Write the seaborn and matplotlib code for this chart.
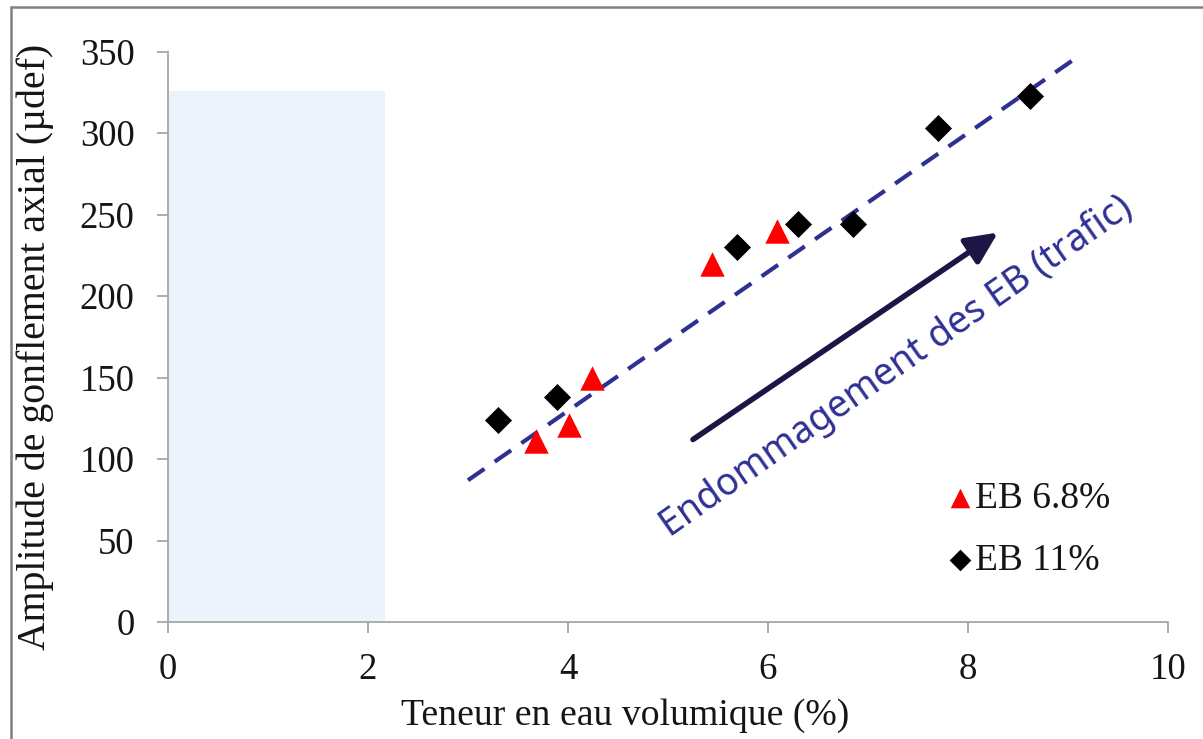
import matplotlib
matplotlib.use("Agg")
import matplotlib.pyplot as plt
import seaborn as sns
import pandas as pd
from matplotlib.patches import Rectangle
from matplotlib.lines import Line2D

# ---- data ----
eb68_x = [3.68, 4.01, 4.24, 5.44, 6.09]
eb68_y = [111, 121, 150, 220, 240]
eb11_x = [3.30, 3.89, 5.69, 6.30, 6.85, 7.70, 8.62]
eb11_y = [124, 138, 230, 244, 244, 303, 323]
trend_x = [3.0, 9.1]
trend_y = [87, 347]
arrow_start = (5.25, 112)
arrow_end = (8.30, 239)
zone_x = [0.0, 2.17]
zone_y = [0.0, 326]
series_labels = ["EB 6.8%", "EB 11%"]
x_ticks = [0, 2, 4, 6, 8, 10]
y_ticks = [0, 50, 100, 150, 200, 250, 300, 350]
x_label = "Teneur en eau volumique (%)"
y_label = "Amplitude de gonflement axial (µdef)"
annot_text = "Endommagement des EB (trafic)"

sns.set_theme(style="white")
plt.rcParams['font.family'] = ['Liberation Serif', 'DejaVu Serif']

W, H = 1203, 739
fig = plt.figure(figsize=(W / 100, H / 100), dpi=100)
ax = fig.add_axes([168 / W, 1 - 622 / H, 1000 / W, 570.3 / H])

axis_gray = "#A6A6A6"
txt_col = "#151515"

# shaded zone
ax.add_patch(Rectangle((zone_x[0], zone_y[0]), zone_x[1] - zone_x[0], zone_y[1] - zone_y[0],
                       facecolor="#EDF3FB", edgecolor="none", zorder=0))

# trend line
ax.plot(trend_x, trend_y, color="#2E3192", lw=3.0, linestyle=(0, (4.8, 3.0)),
        dash_capstyle="butt", zorder=2)

df68 = pd.DataFrame({"x": eb68_x, "y": eb68_y})
df11 = pd.DataFrame({"x": eb11_x, "y": eb11_y})
sns.scatterplot(data=df68, x="x", y="y", marker="^", color="#FF0000", s=310,
                linewidth=0, ax=ax, label=series_labels[0], zorder=3)
sns.scatterplot(data=df11, x="x", y="y", marker="D", color="#000000", s=190,
                linewidth=0, ax=ax, label=series_labels[1], zorder=3)

# arrow
ax.annotate("", xy=arrow_end, xytext=arrow_start,
            arrowprops=dict(arrowstyle="-|>,head_length=0.55,head_width=0.26",
                            lw=4.0, color="#1C1646", mutation_scale=35,
                            shrinkA=0, shrinkB=0), zorder=4)

ax.text(7.28, 157, annot_text, rotation=35, rotation_mode="anchor",
        ha="center", va="center", fontsize=27, color="#2E3192",
        family=["Noto Sans", "DejaVu Sans"], zorder=4)

ax.set_xlim(0, 10)
ax.set_ylim(0, 350)
ax.set_xticks(x_ticks)
ax.set_yticks(y_ticks)
ax.set_xticklabels([str(t) for t in x_ticks])
ax.set_yticklabels([str(t) for t in y_ticks])

for s in ["top", "right"]:
    ax.spines[s].set_visible(False)
for s in ["left", "bottom"]:
    ax.spines[s].set_color(axis_gray)
    ax.spines[s].set_linewidth(1.3)
ax.tick_params(axis="both", which="major", direction="out", length=8, width=1.3,
               color=axis_gray, labelsize=26.5, labelcolor=txt_col,
               bottom=True, left=True)
ax.tick_params(axis="y", pad=16)
ax.tick_params(axis="x", pad=14)
ax.set_xlabel(x_label, fontsize=27.2, color=txt_col)
ax.set_ylabel(y_label, fontsize=28.6, color=txt_col)
ax.xaxis.set_label_coords(0.457, -0.134)
ax.yaxis.set_label_coords(-0.114, 0.4825)

leg = ax.legend(loc="upper left", bbox_to_anchor=(0.781, 0.246), frameon=False,
                fontsize=27, handlelength=0.6, handletextpad=0.1, borderpad=0,
                borderaxespad=0, labelspacing=0.73, markerscale=0.8)
for t in leg.get_texts():
    t.set_color(txt_col)

# figure frame (top and left visible)
fig.add_artist(Line2D([11 / W, 11 / W], [0, 1 - 7 / H], color="#808080", lw=1.8))
fig.add_artist(Line2D([11 / W, 1], [1 - 7 / H, 1 - 7 / H], color="#808080", lw=1.8))

fig.savefig("out.png", dpi=100)
